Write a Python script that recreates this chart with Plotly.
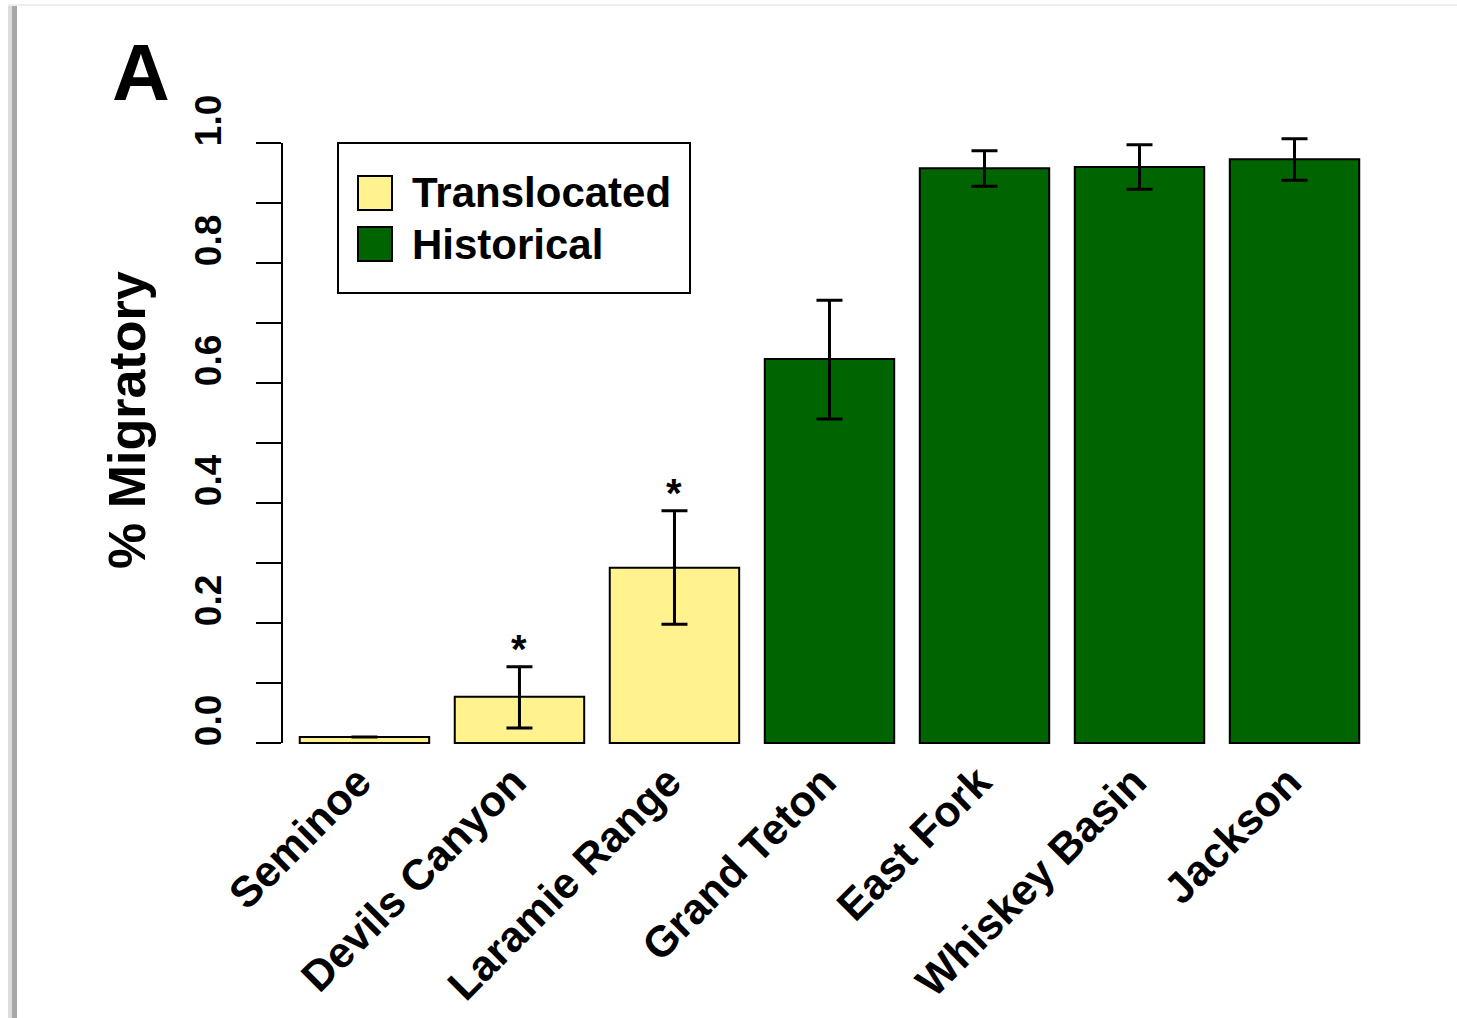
import plotly.graph_objects as go

# ---------------- data ----------------
sites = ["Seminoe", "Devils Canyon", "Laramie Range", "Grand Teton",
         "East Fork", "Whiskey Basin", "Jackson"]
groups = ["Translocated", "Translocated", "Translocated",
          "Historical", "Historical", "Historical", "Historical"]
migratory = [0.010, 0.077, 0.292, 0.640, 0.958, 0.960, 0.973]
ci_upper = [0.010, 0.127, 0.387, 0.738, 0.987, 0.997, 1.007]
ci_lower = [0.010, 0.025, 0.198, 0.540, 0.928, 0.923, 0.938]
significance = ["", "*", "*", "", "", "", ""]
legend_labels = ["Translocated", "Historical"]
ytick_vals = [0.0, 0.1, 0.2, 0.3, 0.4, 0.5, 0.6, 0.7, 0.8, 0.9, 1.0]
ytick_text = ["0.0", "", "0.2", "", "0.4", "", "0.6", "", "0.8", "", "1.0"]

# ---------------- style ----------------
colors = {"Translocated": "#FFF28F", "Historical": "#006400"}
FONT = "Liberation Sans, Arial, Helvetica, sans-serif"
W, H = 1457, 1018
ML, MR, MT, MB = 282, 56, 119, 251
PW, PH = W - ML - MR, H - MT - MB


def px_x(p):
    return (p - ML) / PW


def px_y(p):
    return (H - MB - p) / PH


fig = go.Figure()
for g in legend_labels:
    idx = [i for i, gg in enumerate(groups) if gg == g]
    fig.add_trace(go.Bar(
        x=[sites[i] for i in idx],
        y=[migratory[i] for i in idx],
        name=g,
        marker=dict(color=colors[g], line=dict(color="black", width=2)),
        error_y=dict(type="data", symmetric=False,
                     array=[ci_upper[i] - migratory[i] for i in idx],
                     arrayminus=[migratory[i] - ci_lower[i] for i in idx],
                     color="black", thickness=3, width=13),
        showlegend=False,
    ))

# significance stars
for s, up, sig in zip(sites, ci_upper, significance):
    if sig:
        fig.add_annotation(x=s, y=up, text=sig, showarrow=False,
                           yanchor="bottom", yshift=-6,
                           font=dict(family=FONT, size=40, color="black", weight="bold"))

shapes = []
# y axis line from 0 to 1 only
shapes.append(dict(type="line", xref="paper", yref="y", x0=0, x1=0,
                   y0=ytick_vals[0], y1=ytick_vals[-1],
                   line=dict(color="black", width=2)))
# manual legend
shapes.append(dict(type="rect", xref="paper", yref="paper",
                   x0=px_x(338), x1=px_x(690), y0=px_y(293), y1=px_y(143),
                   line=dict(color="black", width=2), fillcolor="white"))
for k, g in enumerate(legend_labels):
    top = 176 + 51 * k
    shapes.append(dict(type="rect", xref="paper", yref="paper",
                       x0=px_x(358), x1=px_x(392), y0=px_y(top + 34), y1=px_y(top),
                       line=dict(color="black", width=2), fillcolor=colors[g]))
    fig.add_annotation(xref="paper", yref="paper", x=px_x(410), y=px_y(top + 17),
                       xanchor="left", yanchor="middle", text=g, showarrow=False,
                       font=dict(family=FONT, size=42, color="black", weight="bold"))
# decorative page border (left gray bar, faint top line)
shapes.append(dict(type="line", xref="paper", yref="paper",
                   x0=px_x(14.5), x1=px_x(14.5), y0=px_y(6), y1=px_y(H + 5),
                   line=dict(color="#A8A8A8", width=5)))
shapes.append(dict(type="line", xref="paper", yref="paper",
                   x0=px_x(10), x1=px_x(10), y0=px_y(6), y1=px_y(H + 5),
                   line=dict(color="#DCDCDC", width=4)))
shapes.append(dict(type="line", xref="paper", yref="paper",
                   x0=px_x(8), x1=px_x(W), y0=px_y(5), y1=px_y(5),
                   line=dict(color="#EEEEEE", width=2)))

# panel letter and y title
fig.add_annotation(xref="paper", yref="paper", x=px_x(141), y=px_y(73),
                   text="A", showarrow=False, xanchor="center", yanchor="middle",
                   font=dict(family=FONT, size=80, color="black", weight="bold"))
fig.add_annotation(xref="paper", yref="paper", x=px_x(127), y=px_y(420),
                   text="% Migratory", showarrow=False, textangle=-90,
                   xanchor="center", yanchor="middle",
                   font=dict(family=FONT, size=52, color="black", weight="bold"))

fig.update_layout(
    width=W, height=H,
    margin=dict(l=ML, r=MR, t=MT, b=MB, pad=0, autoexpand=False),
    paper_bgcolor="white", plot_bgcolor="white",
    barmode="overlay", bargap=0.165,
    shapes=shapes,
    font=dict(family=FONT, color="black"),
)
fig.update_xaxes(
    categoryorder="array", categoryarray=sites, automargin=False,
    range=[-0.532, 6.687], showline=False, showgrid=False, zeroline=False,
    ticks="", tickangle=-45, ticklabelstandoff=-20, ticklabelshift=-6,
    tickfont=dict(family=FONT, size=43, color="black", weight="bold"),
)
fig.update_yaxes(
    range=[-0.04, 1.04], showline=False, showgrid=False, zeroline=False,
    automargin=False,
    tickmode="array", tickvals=ytick_vals, ticktext=ytick_text,
    ticks="outside", ticklen=25, tickwidth=2, tickcolor="black",
    tickangle=-90, ticklabelshift=-17, ticklabelstandoff=20,
    tickfont=dict(family=FONT, size=37, color="black", weight="bold"),
)

fig.write_html("out.html", config={"displayModeBar": False},
               post_script="document.body.style.margin='0';")
